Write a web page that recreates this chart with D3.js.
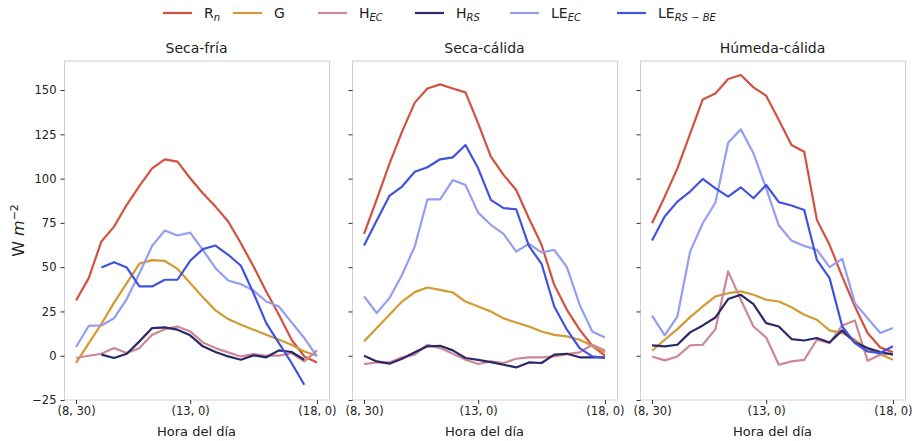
<!DOCTYPE html>
<html lang="es">
<head>
<meta charset="UTF-8">
<title>Balance de energía</title>
<script src="https://cdn.jsdelivr.net/npm/d3@7/dist/d3.min.js"></script>
<style>
  body { margin: 0; background: #fff; }
  svg text { font-family: "DejaVu Sans", sans-serif; fill: #222; }
</style>
</head>
<body>
<div id="canvas"></div>
<script>
// horas (tuplas hora, minuto) cada 30 min
var horas = [];
for (var h = 8; h <= 18; h++) {
  [0, 30].forEach(function(m) {
    if ((h === 8 && m === 0) || (h === 18 && m === 30)) return;
    horas.push("(" + h + ", " + m + ")");
  });
}
var tickIdx = [0, 9, 19];
var yTicks = [-25, 0, 25, 50, 75, 100, 125, 150];
var paneles = ["Seca-fría", "Seca-cálida", "Húmeda-cálida"];

// Seca-fría
var rnSF   = [31.2, 43.8, 64.5, 72.9, 85.2, 95.9, 105.8, 110.9, 109.6, 100.2, 91.7, 84.2, 75.8, 63.5, 50.4, 36.3, 23.1, 9.0, -0.4, -3.8];
var gSF    = [-4, 7, 18, 30, 41, 52, 54, 53.5, 49, 41, 33, 25.6, 20.7, 17.5, 14.7, 11.8, 9, 6.2, 2.4, 0];
var hecSF  = [-1.3, 0, 1.1, 4.3, 1.5, 4.3, 11.8, 15, 16.5, 13.7, 7.5, 4.3, 1.9, -0.4, 0.9, 0, 0, 1.5, -3.2, 3];
var hrsSF  = [null, null, 0.6, -1.3, 1.1, 8.1, 15.6, 16, 14.7, 11.5, 5.3, 2.1, -0.4, -2.3, 0.2, -0.9, 3, 2.1, -2.3, null];
var leecSF = [4.9, 16.9, 17.1, 21.2, 32, 46.6, 62, 70.7, 67.9, 69.5, 59.8, 49.4, 42.5, 40.4, 36.8, 30.6, 27.8, 18.8, 10, -0.4];
var lersSF = [null, null, 49.8, 52.8, 49.8, 39.1, 39.1, 42.9, 42.9, 53.6, 60.2, 62.2, 57, 50.8, 35.3, 18.4, 7.1, -4.1, -16.4, null];

// Seca-cálida
var rnSC   = [68.8, 88.3, 108.3, 126.5, 142.9, 150.9, 153.2, 150.9, 148.7, 131.2, 112.4, 102.1, 93.6, 77.6, 62.6, 40, 25.9, 14.7, 5.6, 0];
var gSC    = [8.1, 15.6, 23.1, 30.6, 35.9, 38.5, 37.2, 35.7, 30.6, 27.8, 25, 21.1, 18.8, 16.5, 13.7, 11.8, 10.9, 9, 5.6, 1.9];
var hecSC  = [-4.7, -3.8, -3.8, -0.9, 0.6, 6.2, 4.3, 1.1, -2.3, -4.7, -3.2, -4.1, -1.7, -0.9, -0.9, -0.4, 0.9, 1.9, 6.2, 3];
var hrsSC  = [0, -3.2, -4.5, -1.7, 1.9, 5.3, 5.6, 3, -1.3, -2.3, -3.6, -5.1, -6.6, -3.8, -4.1, 0.6, 1.1, -0.9, -0.9, -0.9];
var leecSC = [33.5, 24.1, 32.5, 45.7, 61.7, 88.3, 88.3, 99.2, 96.4, 80.8, 73.9, 68.8, 58.8, 63.2, 58.3, 59.8, 50, 28.8, 13.7, 10.3];
var lersSC = [62.2, 76.3, 90.2, 95.5, 103.9, 106.4, 110.9, 112, 119, 105.8, 88, 83.3, 82.7, 62, 51.9, 27.8, 14.7, 4.3, -0.4, -1.3];

// Húmeda-cálida
var rnHC   = [74.8, 89.8, 105.8, 125.2, 144.7, 148.1, 156.2, 158.5, 151.5, 146.8, 133.1, 119, 115.2, 76.7, 62.6, 44.7, 27.8, 12.8, 4.7, 1.9];
var gHC    = [2.8, 9, 15, 21.8, 27.8, 33.5, 35.3, 36.3, 34.4, 31.6, 30.6, 27.4, 23.1, 20.3, 14.3, 12.8, 9, 3.9, 0.9, -2.3];
var hecHC  = [-0.4, -2.6, -0.4, 5.8, 6.2, 15, 47.6, 31.6, 16.5, 10.3, -5.1, -3.2, -2.3, 9, 7.1, 17.1, 19.9, -2.8, 0.6, 1.5];
var hrsHC  = [5.8, 5.3, 6.2, 13.2, 17.1, 21.6, 32, 34.4, 29.1, 18.4, 16.5, 9.4, 8.6, 10, 7.5, 14.3, 7.5, 4.3, 2.1, 0.6];
var leecHC = [22.6, 11.5, 22.2, 58.8, 74.8, 86.5, 120.3, 127.8, 114.3, 94.5, 73.5, 65, 62, 59.8, 50, 54.7, 29.7, 21.2, 12.8, 15.6];
var lersHC = [65, 78.6, 87, 92.7, 99.8, 94.5, 89.8, 95.1, 88.9, 96.4, 86.7, 84.8, 82.3, 54.1, 43.8, 16.5, 7.1, 2.4, 1.5, 5.3];

var series = [
  {key: "Rn",   color: "#d4513f"},
  {key: "G",    color: "#d39a32"},
  {key: "HEC",  color: "#cd8893"},
  {key: "HRS",  color: "#2c2768"},
  {key: "LEEC", color: "#949ef0"},
  {key: "LERS", color: "#4152e0"}
];
var datos = [
  [rnSF, gSF, hecSF, hrsSF, leecSF, lersSF],
  [rnSC, gSC, hecSC, hrsSC, leecSC, lersSC],
  [rnHC, gHC, hecHC, hrsHC, leecHC, lersHC]
];

var W = 917, H = 441;
var panelX = [64, 352, 640];
var pw = 265, plotTop = 61, plotBottom = 400;

var svg = d3.select("#canvas").append("svg")
  .attr("width", W).attr("height", H);

var x = d3.scaleLinear().domain([-0.95, 19.95]).range([0, pw]);
var y = d3.scaleLinear().domain([-25, 166.4]).range([plotBottom, plotTop]);

var line = d3.line()
  .defined(function(d) { return d != null; })
  .x(function(d, i) { return x(i); })
  .y(function(d) { return y(d); });

paneles.forEach(function(nombre, p) {
  var g = svg.append("g").attr("transform", "translate(" + panelX[p] + ",0)");

  g.append("rect")
    .attr("x", 0.5).attr("y", plotTop).attr("width", pw).attr("height", plotBottom - plotTop)
    .attr("fill", "none").attr("stroke", "#cfcfdc").attr("stroke-width", 1);

  var yAxis = d3.axisLeft(y).tickValues(yTicks).tickSize(4).tickPadding(4);
  if (p > 0) yAxis.tickFormat("");
  var ya = g.append("g").attr("transform", "translate(0.5,0)").call(yAxis);
  ya.select(".domain").remove();
  ya.selectAll("text").style("font-size", "11.5px").attr("fill", "#222");
  ya.selectAll("line").attr("stroke", "#333");

  var xAxis = d3.axisBottom(x).tickValues(tickIdx).tickSize(4).tickPadding(3)
    .tickFormat(function(i) { return horas[i]; });
  var xa = g.append("g").attr("transform", "translate(0," + plotBottom + ")").call(xAxis);
  xa.select(".domain").remove();
  xa.selectAll("text").style("font-size", "11.5px").attr("fill", "#222");
  xa.selectAll("line").attr("stroke", "#333");

  g.append("text")
    .attr("x", pw / 2).attr("y", 436)
    .attr("text-anchor", "middle").style("font-size", "13px")
    .text("Hora del día");

  g.append("text")
    .attr("x", pw / 2).attr("y", 53)
    .attr("text-anchor", "middle").style("font-size", "14px")
    .text(nombre);

  series.forEach(function(s, k) {
    g.append("path")
      .datum(datos[p][k])
      .attr("fill", "none")
      .attr("stroke", s.color)
      .attr("stroke-width", 2.2)
      .attr("stroke-linejoin", "round")
      .attr("d", line);
  });
});

// etiqueta eje y
var yl = svg.append("text")
  .attr("transform", "translate(24," + ((plotTop + plotBottom) / 2) + ") rotate(-90)")
  .attr("text-anchor", "middle").style("font-size", "16px");
yl.append("tspan").text("W ");
yl.append("tspan").style("font-style", "italic").text("m");
yl.append("tspan").attr("dy", -6).style("font-size", "11px").text("−2");

// leyenda
var legX = [163, 233, 318, 415, 510, 617];
var legLab = [["R", "n"], ["G", ""], ["H", "EC"], ["H", "RS"], ["LE", "EC"], ["LE", "RS − BE"]];
series.forEach(function(s, k) {
  var lg = svg.append("g").attr("transform", "translate(" + legX[k] + ",13)");
  lg.append("line").attr("x1", 0).attr("x2", 29).attr("y1", 0).attr("y2", 0)
    .attr("stroke", s.color).attr("stroke-width", 2.2);
  var t = lg.append("text").attr("x", 41).attr("y", 5).style("font-size", "14px");
  t.append("tspan").text(legLab[k][0]);
  if (legLab[k][1]) {
    t.append("tspan").attr("dy", 3).style("font-size", "10px")
      .style("font-style", "italic").text(legLab[k][1]);
  }
});
</script>
</body>
</html>
